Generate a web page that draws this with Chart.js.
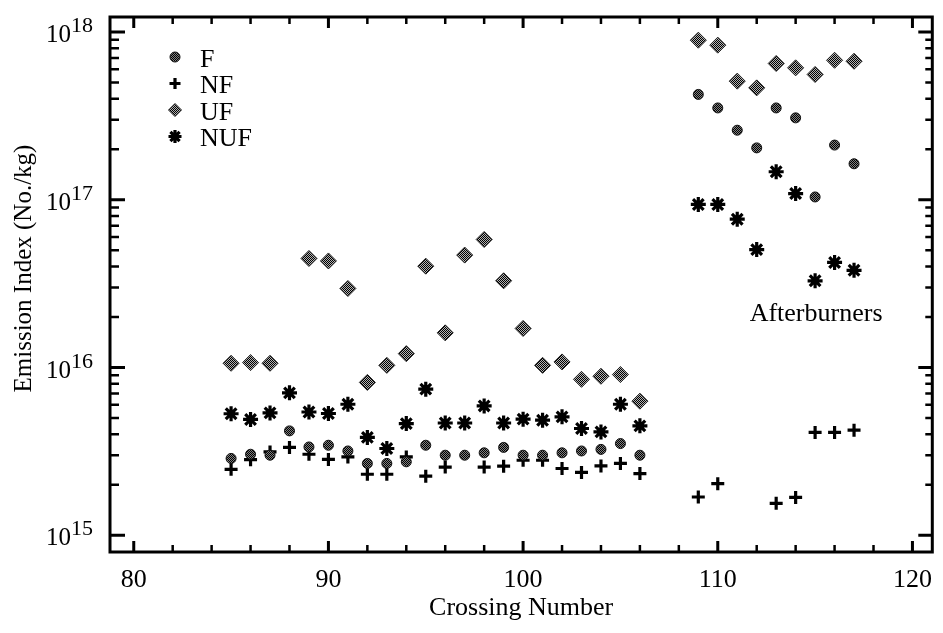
<!DOCTYPE html>
<html><head><meta charset="utf-8">
<script src="https://cdn.jsdelivr.net/npm/chart.js@4"></script>
<style>html,body{margin:0;padding:0;background:#fff}#wrap{width:943px;height:633px}</style>
</head><body><div id="wrap"><canvas id="c" width="943" height="633"></canvas></div>
<script>
// ---- data ----
const crossings = [85,86,87,88,89,90,91,92,93,94,95,96,97,98,99,100,101,102,103,104,105,106,
                   109,110,111,112,113,114,115,116,117];
const fValues   = [2.87e15,3.04e15,3.0e15,4.19e15,3.36e15,3.44e15,3.18e15,2.68e15,2.68e15,2.74e15,3.44e15,
                   3.0e15,3.0e15,3.1e15,3.34e15,3.0e15,3.0e15,3.1e15,3.18e15,3.25e15,3.52e15,3.0e15,
                   4.25e17,3.53e17,2.6e17,2.04e17,3.53e17,3.08e17,1.04e17,2.12e17,1.64e17];
const nfValues  = [2.47e15,2.82e15,3.14e15,3.34e15,3.04e15,2.83e15,2.93e15,2.31e15,2.31e15,2.93e15,2.25e15,
                   2.55e15,null,2.55e15,2.58e15,2.8e15,2.8e15,2.5e15,2.37e15,2.59e15,2.68e15,2.33e15,
                   1.69e15,2.03e15,null,null,1.55e15,1.68e15,4.1e15,4.1e15,4.23e15];
const ufValues  = [1.06e16,1.07e16,1.06e16,null,4.47e16,4.32e16,2.96e16,8.15e15,1.03e16,1.21e16,4.02e16,
                   1.61e16,4.68e16,5.8e16,3.29e16,1.71e16,1.03e16,1.08e16,8.5e15,8.87e15,9.08e15,6.3e15,
                   8.95e17,8.36e17,5.1e17,4.65e17,6.5e17,6.12e17,5.59e17,6.79e17,6.7e17];
const nufValues = [5.3e15,4.9e15,5.36e15,7.06e15,5.43e15,5.32e15,6.04e15,3.83e15,3.29e15,4.63e15,7.43e15,
                   4.67e15,4.67e15,5.9e15,4.67e15,4.92e15,4.85e15,5.08e15,4.33e15,4.13e15,6.04e15,4.49e15,
                   9.38e16,9.38e16,7.66e16,5.05e16,1.47e17,1.09e17,3.29e16,4.23e16,3.8e16];
const seriesNames = ['F','NF','UF','NUF'];
const xTickValues = [80,90,100,110,120];
const yTickExponents = [15,16,17,18];
const xTitle = 'Crossing Number';
const yTitle = 'Emission Index (No./kg)';
const annotationText = 'Afterburners';
const annotationAt = {x: 115.05, y: 1.9e16};

// ---- helpers ----
const FONT = '"Liberation Serif", "Times New Roman", serif';
function makePattern(dark, light) {
  const p = document.createElement('canvas');
  p.width = 2; p.height = 2;
  const g = p.getContext('2d');
  g.fillStyle = light; g.fillRect(0,0,2,2);
  g.fillStyle = dark; g.fillRect(0,0,1,1); g.fillRect(1,1,1,1);
  return document.getElementById('c').getContext('2d').createPattern(p, 'repeat');
}
const fPattern = makePattern('#000', '#808080');
const ufPattern = makePattern('#000', '#b4b4b4');
function pts(vals) {
  const out = [];
  crossings.forEach((c, i) => { if (vals[i] != null) out.push({x: c, y: vals[i]}); });
  return out;
}
const styles = [
  {pointStyle:'circle', radius:5, bg:fPattern, border:'#111', bw:1, lr:5},
  {pointStyle:'cross', radius:6.5, bg:'#000', border:'#000', bw:3.2, lr:5.5},
  {pointStyle:'rectRot', radius:8, bg:ufPattern, border:'#222', bw:1, lr:6.5},
  {pointStyle:'star', radius:7.5, bg:'#000', border:'#000', bw:3.2, lr:6.5}
];
const seriesData = [fValues, nfValues, ufValues, nufValues];

const framePlugin = {
  id: 'frame',
  afterDraw(chart) {
    const {ctx, chartArea: a, scales: {x, y}} = chart;
    ctx.save();
    ctx.strokeStyle = '#000';
    ctx.lineCap = 'butt';
    // frame
    ctx.lineWidth = 3;
    ctx.strokeRect(a.left, a.top, a.right - a.left, a.bottom - a.top);
    // x ticks
    for (let v = 80; v <= 120; v += 2) {
      const px = x.getPixelForValue(v);
      const major = v % 10 === 0;
      const len = major ? 11 : 7;
      ctx.lineWidth = major ? 3 : 2.5;
      ctx.beginPath();
      ctx.moveTo(px, a.bottom); ctx.lineTo(px, a.bottom - len);
      ctx.moveTo(px, a.top); ctx.lineTo(px, a.top + len);
      ctx.stroke();
    }
    // y ticks
    const ymin = y.min, ymax = y.max;
    yTickExponents.forEach(e => {
      for (let m = 1; m <= 9; m++) {
        const v = m * Math.pow(10, e);
        if (v < ymin || v > ymax) continue;
        const py = y.getPixelForValue(v);
        const major = m === 1;
        ctx.lineWidth = major ? 3 : 2.5;
        const l1 = major ? 15 : 9, l2 = major ? 14 : 7;
        ctx.beginPath();
        ctx.moveTo(a.left, py); ctx.lineTo(a.left + l1, py);
        ctx.moveTo(a.right, py); ctx.lineTo(a.right - l2, py);
        ctx.stroke();
      }
    });
    // x tick labels
    ctx.fillStyle = '#000';
    ctx.font = '26px ' + FONT;
    ctx.textAlign = 'center';
    ctx.textBaseline = 'alphabetic';
    xTickValues.forEach(v => {
      ctx.fillText(String(v), x.getPixelForValue(v), a.bottom + 35);
    });
    // y tick labels with superscripts
    yTickExponents.forEach(e => {
      const py = y.getPixelForValue(Math.pow(10, e));
      ctx.font = '22px ' + FONT;
      const sw = ctx.measureText(String(e)).width;
      ctx.font = '25px ' + FONT;
      const bw = ctx.measureText('10').width;
      const right = a.left - 17;
      ctx.textAlign = 'left';
      ctx.fillText('10', right - sw - bw, py + 10);
      ctx.font = '22px ' + FONT;
      ctx.fillText(String(e), right - sw, py);
    });
    // y axis title
    ctx.save();
    ctx.font = '25px ' + FONT;
    ctx.textAlign = 'center';
    ctx.textBaseline = 'middle';
    ctx.translate(24, (a.top + a.bottom) / 2 - 16);
    ctx.rotate(-Math.PI / 2);
    ctx.fillText(yTitle, 0, 0);
    ctx.restore();
    // legend
    const lx = a.left + 65, ly0 = a.top + 40, step = 26.5;
    seriesNames.forEach((name, i) => {
      const s = styles[i];
      const cy = ly0 + i * step;
      ctx.fillStyle = s.bg; ctx.strokeStyle = s.border; ctx.lineWidth = s.bw;
      Chart.helpers.drawPoint(ctx, {pointStyle: s.pointStyle, radius: s.lr, rotation: 0, borderWidth: s.bw}, lx, cy);
      ctx.fillStyle = '#000';
      ctx.font = '26px ' + FONT;
      ctx.textAlign = 'left';
      ctx.fillText(name, lx + 25, cy + 9.5);
    });
    // annotation
    ctx.font = '26px ' + FONT;
    ctx.textAlign = 'center';
    ctx.fillText(annotationText, x.getPixelForValue(annotationAt.x), y.getPixelForValue(annotationAt.y));
    ctx.restore();
  }
};

new Chart(document.getElementById('c'), {
  type: 'scatter',
  data: {
    datasets: seriesNames.map((name, i) => ({
      label: name,
      data: pts(seriesData[i]),
      pointStyle: styles[i].pointStyle,
      pointRadius: styles[i].radius,
      pointHoverRadius: styles[i].radius,
      backgroundColor: styles[i].bg,
      borderColor: styles[i].border,
      borderWidth: styles[i].bw,
      showLine: false
    }))
  },
  options: {
    responsive: false,
    animation: false,
    devicePixelRatio: 1,
    layout: {padding: {top: 17, right: 4, left: 0, bottom: 0}},
    plugins: {legend: {display: false}, tooltip: {enabled: false}},
    scales: {
      x: {
        type: 'linear', min: 78.78, max: 121.02,
        grid: {display: false}, border: {display: false},
        ticks: {display: false},
        title: {display: true, text: xTitle, color: '#000', font: {family: FONT, size: 26}, padding: {top: 0, bottom: 9}},
        afterFit(s) { s.height = 81; }
      },
      y: {
        type: 'logarithmic', min: Math.pow(10, 14.9), max: Math.pow(10, 18.09),
        grid: {display: false}, border: {display: false},
        ticks: {display: false},
        title: {display: false},
        afterFit(s) { s.width = 110; }
      }
    }
  },
  plugins: [framePlugin]
});
</script>
</body></html>
